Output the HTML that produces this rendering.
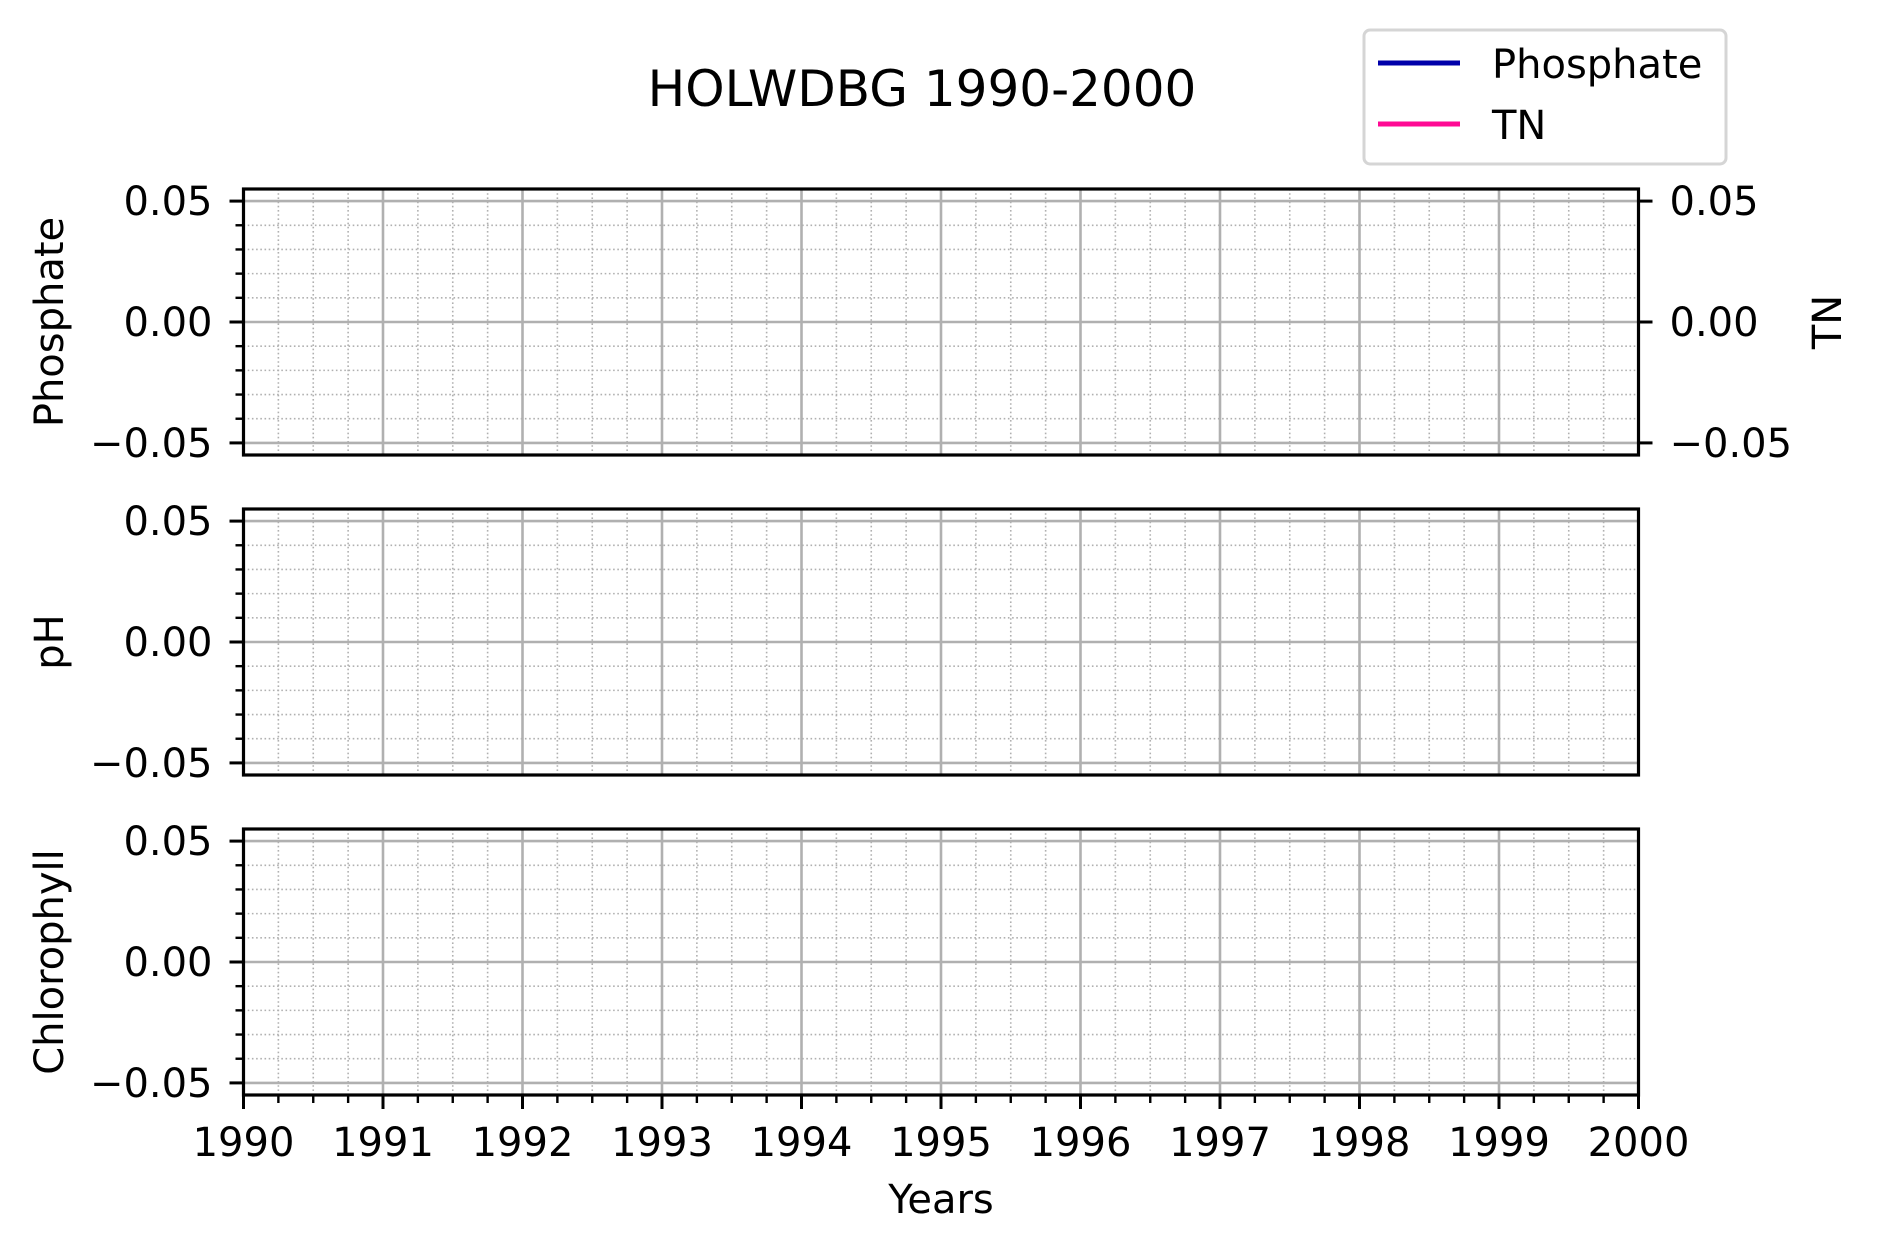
<!DOCTYPE html>
<html><head><meta charset="utf-8"><style>
html,body{margin:0;padding:0;background:#fff;}
svg{display:block;font-family:"DejaVu Sans","Liberation Sans",sans-serif;}
</style></head><body>
<svg id="fig" width="1881" height="1251" viewBox="0 0 1881 1251">
<rect width="1881" height="1251" fill="#fff"/>
<text x="922" y="106" font-size="50" text-anchor="middle">HOLWDBG 1990-2000</text>
<g>
<rect x="1364" y="30" width="362" height="134" rx="6" fill="#fff" stroke="#d5d5d5" stroke-width="3"/>
<line x1="1378" y1="63" x2="1460" y2="63" stroke="#0000aa" stroke-width="5"/>
<text x="1492" y="78" font-size="40">Phosphate</text>
<line x1="1378" y1="124" x2="1460" y2="124" stroke="#ff0a94" stroke-width="5"/>
<text x="1492" y="139" font-size="40">TN</text>
</g>
<g id="panels"></g>
<text x="941" y="1213" font-size="40" text-anchor="middle">Years</text>
</svg>
<script>
const years = [1990,1991,1992,1993,1994,1995,1996,1997,1998,1999,2000];
const yTicks = [-0.05, 0.00, 0.05];
const yTickLabels = ["\u22120.05","0.00","0.05"];
const panelNames = ["Phosphate","pH","Chlorophyll"];
const phosphateValues = [];
const tnValues = [];
const phValues = [];
const chlorophyllValues = [];

const NS = "http://www.w3.org/2000/svg";
const L = 243.5, R = 1638.5;
const tops = [189, 509, 829], H = 266;
const yMin = -0.055, yMax = 0.055;
const xMin = 1990, xMax = 2000;
function xs(v){ return L + (v - xMin) / (xMax - xMin) * (R - L); }
function mk(tag, attrs, parent){ const e = document.createElementNS(NS, tag); for (const k in attrs) e.setAttribute(k, attrs[k]); parent.appendChild(e); return e; }
const root = document.getElementById('panels');
const series = [[phosphateValues, tnValues], [phValues], [chlorophyllValues]];

tops.forEach((T, pi) => {
  const ys = v => T + (yMax - v) / (yMax - yMin) * H;
  const g = mk('g', {}, root);
  
  
  for (let i = 0; i <= 40; i++) {
    if (i % 4 === 0) continue;
    const x = xs(xMin + i * 0.25);
    const l = mk('line', {x1:x, x2:x, y1:T, y2:T+H, stroke:'#b0b0b0', 'stroke-width':1.6, 'stroke-dasharray':'1.6 2.6'}, g);
    
    
  }
  for (let k = -5; k <= 5; k++) {
    if (k % 5 === 0) continue;
    const y = ys(k * 0.01);
    const l = mk('line', {x1:L, x2:R, y1:y, y2:y, stroke:'#b0b0b0', 'stroke-width':1.6, 'stroke-dasharray':'1.6 2.6'}, g);
    
    
    const t = mk('line', {x1:L-8, x2:L, y1:y, y2:y, stroke:'#000', 'stroke-width':2.4}, g);
    
    
  }
  years.forEach(yr => {
    const x = xs(yr);
    const l = mk('line', {x1:x, x2:x, y1:T, y2:T+H, stroke:'#b0b0b0', 'stroke-width':2.6}, g);
    
    
  });
  yTicks.forEach((v, i) => {
    const y = ys(v);
    const l = mk('line', {x1:L, x2:R, y1:y, y2:y, stroke:'#b0b0b0', 'stroke-width':2.6}, g);
    
    
    const t = mk('line', {x1:L-14, x2:L, y1:y, y2:y, stroke:'#000', 'stroke-width':3}, g);
    
    
    const tx = mk('text', {x:L-31, y:y+14, 'font-size':40, 'text-anchor':'end'}, g);
    tx.textContent = yTickLabels[i];
    
    
    if (pi === 0) {
      const t2 = mk('line', {x1:R, x2:R+14, y1:y, y2:y, stroke:'#000', 'stroke-width':3}, g);
      
      
      const tx2 = mk('text', {x:R+31, y:y+14, 'font-size':40}, g);
      tx2.textContent = yTickLabels[i];
      
      
    }
  });
  const colors = ['#0000aa', '#ff0a94'];
  series[pi].forEach((vals, si) => {
    if (!vals.length) return;
    const d = vals.map((p, j) => (j ? 'L' : 'M') + xs(p[0]) + ' ' + ys(p[1])).join(' ');
    const p = mk('path', {d:d, fill:'none', stroke:colors[si], 'stroke-width':4}, g);
    
    
  });
  const sp = mk('rect', {x:L, y:T, width:R-L, height:H, fill:'none', stroke:'#000', 'stroke-width':3.2}, g);
  
  
  const yl = mk('text', {x:0, y:0, 'font-size':40, 'text-anchor':'middle', transform:'translate(' + 63 + ',' + (T + H/2) + ') rotate(-90)'}, g);
  yl.textContent = panelNames[pi];
  
  
  if (pi === 0) {
    const yr2 = mk('text', {x:0, y:0, 'font-size':40, 'text-anchor':'middle', transform:'translate(' + 1841 + ',' + (T + H/2) + ') rotate(-90)'}, g);
    yr2.textContent = 'TN';
    
    
  }
  if (pi === 2) {
    const B = T + H;
    for (let i = 0; i <= 40; i++) {
      if (i % 4 === 0) continue;
      const x = xs(xMin + i * 0.25);
      const t = mk('line', {x1:x, x2:x, y1:B, y2:B+8, stroke:'#000', 'stroke-width':2.4}, g);
      
      
    }
    years.forEach(yr => {
      const x = xs(yr);
      const t = mk('line', {x1:x, x2:x, y1:B, y2:B+14, stroke:'#000', 'stroke-width':3}, g);
      
      
      const tx = mk('text', {x:x, y:1156, 'font-size':40, 'text-anchor':'middle'}, g);
      tx.textContent = yr;
      
      
    });
  }
});
</script>
</body></html>
